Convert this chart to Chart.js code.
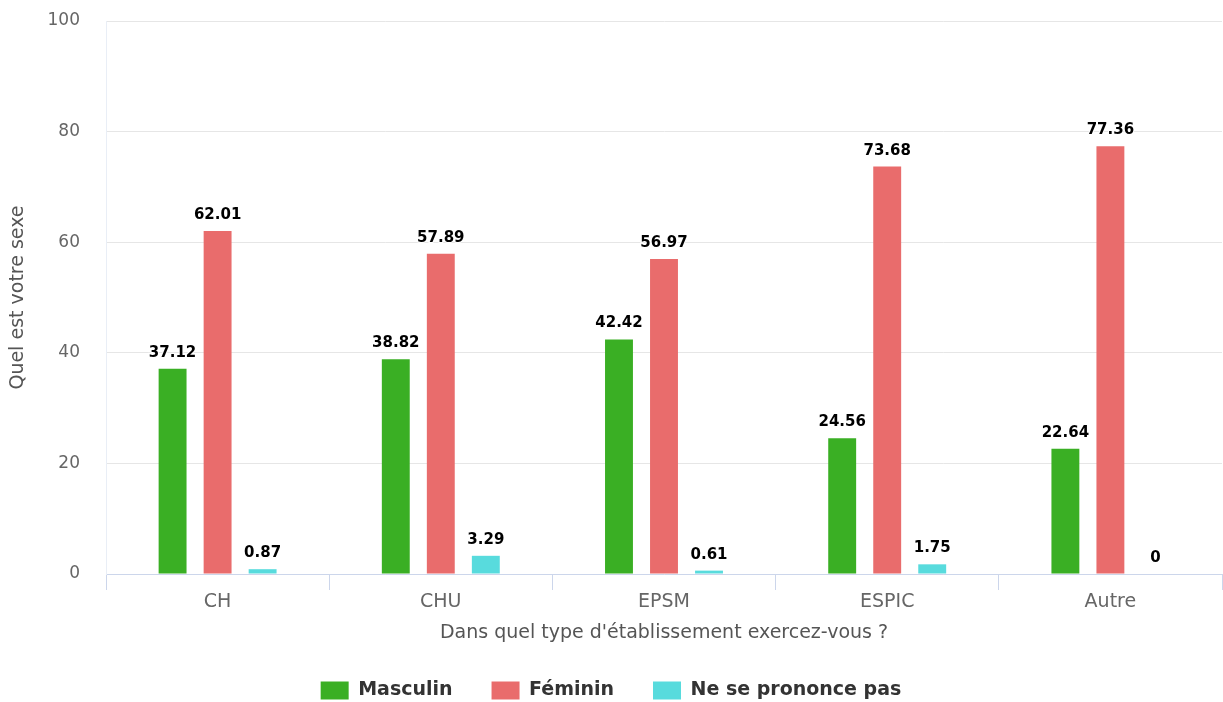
<!DOCTYPE html>
<html lang="fr">
<head>
<meta charset="utf-8">
<title>Quel est votre sexe</title>
<script src="https://cdn.jsdelivr.net/npm/chart.js@4/dist/chart.umd.min.js"></script>
<style>
  html, body { margin: 0; padding: 0; background: #fff; }
  #wrap { width: 1223px; height: 702px; }
</style>
</head>
<body>
<div id="wrap"><canvas id="myChart" width="1223" height="702"></canvas></div>
<script>
// categories and series
const categories = ['CH', 'CHU', 'EPSM', 'ESPIC', 'Autre'];
const masculin = [37.12, 38.82, 42.42, 24.56, 22.64];
const feminin = [62.01, 57.89, 56.97, 73.68, 77.36];
const sansReponse = [0.87, 3.29, 0.61, 1.75, 0];
const yTicks = [0, 20, 40, 60, 80, 100];

const FONT = "'DejaVu Sans', Verdana, sans-serif";

// value above every bar
const valueLabels = {
  id: 'valueLabels',
  afterDatasetsDraw(chart) {
    const ctx = chart.ctx;
    ctx.save();
    ctx.font = 'bold 15px ' + FONT;
    ctx.textAlign = 'center';
    ctx.textBaseline = 'alphabetic';
    ctx.lineWidth = 2;
    ctx.strokeStyle = '#ffffff';
    ctx.fillStyle = '#000000';
    chart.data.datasets.forEach((ds, i) => {
      chart.getDatasetMeta(i).data.forEach((bar, j) => {
        const txt = String(ds.data[j]);
        const y = bar.y - 12;
        ctx.strokeText(txt, bar.x, y);
        ctx.fillText(txt, bar.x, y);
      });
    });
    ctx.restore();
  }
};

const ctx = document.getElementById('myChart');

new Chart(ctx, {
  type: 'bar',
  data: {
    labels: categories,
    datasets: [
      { label: 'Masculin', data: masculin, backgroundColor: '#3aaf24' },
      { label: 'Féminin', data: feminin, backgroundColor: '#e96c6c' },
      { label: 'Ne se prononce pas', data: sansReponse, backgroundColor: '#58dbdd' }
    ]
  },
  options: {
    responsive: false,
    animation: false,
    devicePixelRatio: 1,
    categoryPercentage: 0.605,
    barPercentage: 0.62,
    layout: { padding: { top: 21, right: 1, left: 0, bottom: 0 } },
    plugins: {
      tooltip: { enabled: false },
      legend: {
        position: 'bottom',
        maxHeight: 60,
        labels: {
          boxWidth: 28,
          boxHeight: 18,
          padding: 39,
          color: '#333333',
          font: { family: FONT, size: 19, weight: 'bold' }
        }
      }
    },
    scales: {
      x: {
        afterFit(scale) { scale.height = 68; },
        grid: {
          offset: true,
          drawOnChartArea: false,
          drawTicks: true,
          tickLength: 16,
          color: '#ccd6eb'
        },
        border: { color: '#ccd6eb' },
        ticks: {
          padding: 1,
          color: '#666666',
          font: { family: FONT, size: 19 }
        },
        title: {
          display: true,
          text: "Dans quel type d'établissement exercez-vous ?",
          color: '#555555',
          padding: { top: 0, bottom: -2 },
          font: { family: FONT, size: 19 }
        }
      },
      y: {
        min: 0,
        max: 100,
        afterFit(scale) {
          scale.width = 106;
          // keep the plot top at the layout padding
          scale.paddingTop = 0;
          scale.paddingBottom = 0;
        },
        afterBuildTicks(scale) { scale.ticks = yTicks.map(v => ({ value: v })); },
        grid: { color: '#e6e6e6', drawTicks: false },
        border: { color: '#e9eef6' },
        ticks: {
          padding: 26,
          color: '#666666',
          font: { family: FONT, size: 17 }
        },
        title: {
          display: true,
          text: 'Quel est votre sexe',
          color: '#555555',
          padding: { top: 7, bottom: 0 },
          font: { family: FONT, size: 19 }
        }
      }
    }
  },
  plugins: [valueLabels]
});
</script>
</body>
</html>
